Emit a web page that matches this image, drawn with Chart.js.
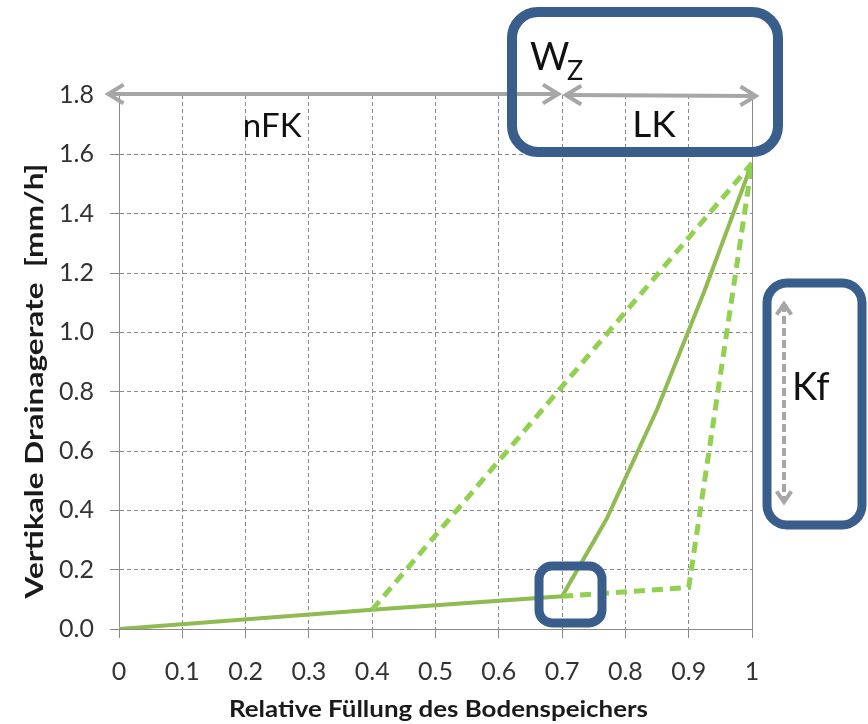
<!DOCTYPE html>
<html>
<head>
<meta charset="utf-8">
<script src="https://cdn.jsdelivr.net/npm/chart.js@4"></script>
<style>
  html, body { margin: 0; padding: 0; background: #ffffff; }
  #wrap { width: 868px; height: 724px; }
</style>
</head>
<body>
<div id="wrap"><canvas id="c" width="868" height="724"></canvas></div>
<script>
// ---- data ----
const xTickLabels = ['0', '0.1', '0.2', '0.3', '0.4', '0.5', '0.6', '0.7', '0.8', '0.9', '1'];
const yTickLabels = ['0.0', '0.2', '0.4', '0.6', '0.8', '1.0', '1.2', '1.4', '1.6', '1.8'];

const solidX = [0, 0.4, 0.7, 0.77, 0.85, 0.925, 1.0];
const solidY = [0, 0.065, 0.11, 0.37, 0.74, 1.14, 1.57];

const dashUpperX = [0.4, 1.0];
const dashUpperY = [0.065, 1.57];

const dashLowerX = [0.7, 0.9, 1.0];
const dashLowerY = [0.11, 0.14, 1.57];

const xTitle = 'Relative Füllung des Bodenspeichers';
const yTitle = 'Vertikale Drainagerate  [mm/h]';

const toPoints = (xs, ys) => xs.map((x, i) => ({ x: x, y: ys[i] }));

const FONT = 'Lato, Carlito, "Open Sans", sans-serif';
const GRAY_ARROW = '#a6a6a6';
const BOX_BLUE = '#3a5e8c';

function chevron(ctx, tx, ty, angle, len, spread) {
  const a1 = angle + Math.PI - spread;
  const a2 = angle + Math.PI + spread;
  ctx.beginPath();
  ctx.moveTo(tx + Math.cos(a1) * len, ty + Math.sin(a1) * len);
  ctx.lineTo(tx, ty);
  ctx.lineTo(tx + Math.cos(a2) * len, ty + Math.sin(a2) * len);
  ctx.stroke();
}

function doubleArrow(ctx, x1, y1, x2, y2, opts) {
  ctx.save();
  ctx.strokeStyle = opts.color;
  ctx.lineWidth = opts.width;
  ctx.lineCap = 'butt';
  ctx.lineJoin = 'miter';
  ctx.setLineDash(opts.dash || []);
  ctx.beginPath();
  ctx.moveTo(x1, y1);
  ctx.lineTo(x2, y2);
  ctx.stroke();
  ctx.setLineDash([]);
  const ang = Math.atan2(y2 - y1, x2 - x1);
  chevron(ctx, x2, y2, ang, opts.head, opts.spread);
  chevron(ctx, x1, y1, ang + Math.PI, opts.head, opts.spread);
  ctx.restore();
}

function roundBox(ctx, x, y, w, h, r, lw) {
  ctx.save();
  ctx.strokeStyle = BOX_BLUE;
  ctx.lineWidth = lw;
  ctx.beginPath();
  ctx.moveTo(x + r, y);
  ctx.lineTo(x + w - r, y);
  ctx.arcTo(x + w, y, x + w, y + r, r);
  ctx.lineTo(x + w, y + h - r);
  ctx.arcTo(x + w, y + h, x + w - r, y + h, r);
  ctx.lineTo(x + r, y + h);
  ctx.arcTo(x, y + h, x, y + h - r, r);
  ctx.lineTo(x, y + r);
  ctx.arcTo(x, y, x + r, y, r);
  ctx.closePath();
  ctx.stroke();
  ctx.restore();
}

// draw text centred at (0,0) in the current frame, stretched to a target length
function fittedText(ctx, text, targetWidth) {
  const w = ctx.measureText(text).width;
  const s = targetWidth / w;
  ctx.scale(s, 1);
  ctx.fillText(text, 0, 0);
}

const annotations = {
  id: 'annotations',
  afterDraw(chart) {
    const ctx = chart.ctx;
    const xs = chart.scales.x;
    const ys = chart.scales.y;
    const area = chart.chartArea;

    // solid right border of the plot area
    ctx.save();
    ctx.strokeStyle = '#8c8c8c';
    ctx.lineWidth = 1;
    ctx.beginPath();
    ctx.moveTo(xs.getPixelForValue(1) + 0.5, area.top);
    ctx.lineTo(xs.getPixelForValue(1) + 0.5, area.bottom);
    ctx.stroke();
    ctx.restore();

    // axis titles
    ctx.save();
    ctx.fillStyle = '#1a1a1a';
    ctx.font = 'bold 23px ' + FONT;
    ctx.textAlign = 'center';
    ctx.textBaseline = 'alphabetic';
    ctx.translate((area.left + area.right) / 2 + 3, 717);
    fittedText(ctx, xTitle, 419);
    ctx.restore();

    ctx.save();
    ctx.fillStyle = '#1a1a1a';
    ctx.font = 'bold 25px ' + FONT;
    ctx.textAlign = 'center';
    ctx.textBaseline = 'alphabetic';
    ctx.translate(43, 381);
    ctx.rotate(-Math.PI / 2);
    fittedText(ctx, yTitle, 435);
    ctx.restore();

    const topY = ys.getPixelForValue(1.8);
    const arrowOpts = { color: GRAY_ARROW, width: 4, head: 18, spread: 0.55 };
    doubleArrow(ctx, xs.getPixelForValue(-0.017), topY - 1, xs.getPixelForValue(0.694), topY - 1, arrowOpts);
    doubleArrow(ctx, xs.getPixelForValue(0.706), topY, xs.getPixelForValue(1.006), topY + 1, arrowOpts);

    // Kf arrow (dashed)
    doubleArrow(ctx, 784, 304, 784, 502, { color: GRAY_ARROW, width: 4, head: 13, spread: 0.6, dash: [8, 4] });

    // labels
    ctx.save();
    ctx.fillStyle = '#111111';
    ctx.textBaseline = 'alphabetic';
    ctx.textAlign = 'center';
    ctx.font = '33px ' + FONT;
    ctx.fillText('nFK', xs.getPixelForValue(0.242), 137);
    ctx.font = '37px ' + FONT;
    ctx.fillText('LK', xs.getPixelForValue(0.845), 137);
    ctx.textAlign = 'left';
    ctx.font = '38px ' + FONT;
    ctx.fillText('W', 530, 70);
    ctx.font = '27px ' + FONT;
    ctx.fillText('Z', 567, 80);
    ctx.font = '38px ' + FONT;
    ctx.fillText('Kf', 792, 400);
    ctx.restore();

    // blue rounded boxes
    roundBox(ctx, 512, 12, 266, 140, 26, 10);
    roundBox(ctx, 767, 283, 95, 242, 20, 9);
    roundBox(ctx, 539, 566, 63, 57, 13, 9);
  }
};

const cfg = {
  type: 'scatter',
  data: {
    datasets: [
      {
        label: 'solid',
        data: toPoints(solidX, solidY),
        showLine: true,
        borderColor: '#8fbb52',
        borderWidth: 4,
        pointRadius: 0,
        tension: 0,
        order: 2
      },
      {
        label: 'dashUpper',
        data: toPoints(dashUpperX, dashUpperY),
        showLine: true,
        borderColor: '#92d050',
        borderWidth: 5,
        borderDash: [11, 7],
        pointRadius: 0,
        tension: 0,
        order: 1
      },
      {
        label: 'dashLower',
        data: toPoints(dashLowerX, dashLowerY),
        showLine: true,
        borderColor: '#92d050',
        borderWidth: 5,
        borderDash: [11, 7],
        pointRadius: 0,
        tension: 0,
        order: 1
      }
    ]
  },
  options: {
    responsive: false,
    animation: false,
    devicePixelRatio: 1,
    layout: { padding: { left: 0, right: 116, top: 95, bottom: 0 } },
    plugins: {
      legend: { display: false },
      tooltip: { enabled: false },
      title: { display: false }
    },
    scales: {
      x: {
        type: 'linear',
        min: 0,
        max: 1,
        afterBuildTicks(scale) {
          scale.ticks = xTickLabels.map(v => ({ value: parseFloat(v) }));
        },
        afterFit(scale) { scale.height = 95; },
        ticks: {
          callback: (v, i) => xTickLabels[i],
          color: '#333333',
          font: { family: FONT, size: 25 },
          padding: 19,
          maxRotation: 0,
          autoSkip: false
        },
        grid: {
          color: '#8a8a8a',
          lineWidth: 1,
          tickLength: 9,
          tickColor: '#8a8a8a',
          drawTicks: true
        },
        border: { display: true, color: '#8a8a8a', width: 1, dash: [4, 3] }
      },
      y: {
        type: 'linear',
        min: 0,
        max: 1.8,
        afterBuildTicks(scale) {
          scale.ticks = yTickLabels.map(v => ({ value: parseFloat(v) }));
        },
        afterFit(scale) { scale.width = 119; },
        ticks: {
          callback: (v, i) => yTickLabels[i],
          color: '#333333',
          font: { family: FONT, size: 25 },
          padding: 16,
          autoSkip: false
        },
        grid: {
          color: (ctx) => ctx.tick && ctx.tick.value === 1.8 ? 'rgba(0,0,0,0)' : '#8a8a8a',
          lineWidth: 1,
          tickLength: 9,
          tickColor: '#8a8a8a',
          drawTicks: true
        },
        border: { display: true, color: '#8a8a8a', width: 1, dash: [4, 3] }
      }
    }
  },
  plugins: [annotations]
};

new Chart(document.getElementById('c'), cfg);
</script>
</body>
</html>
